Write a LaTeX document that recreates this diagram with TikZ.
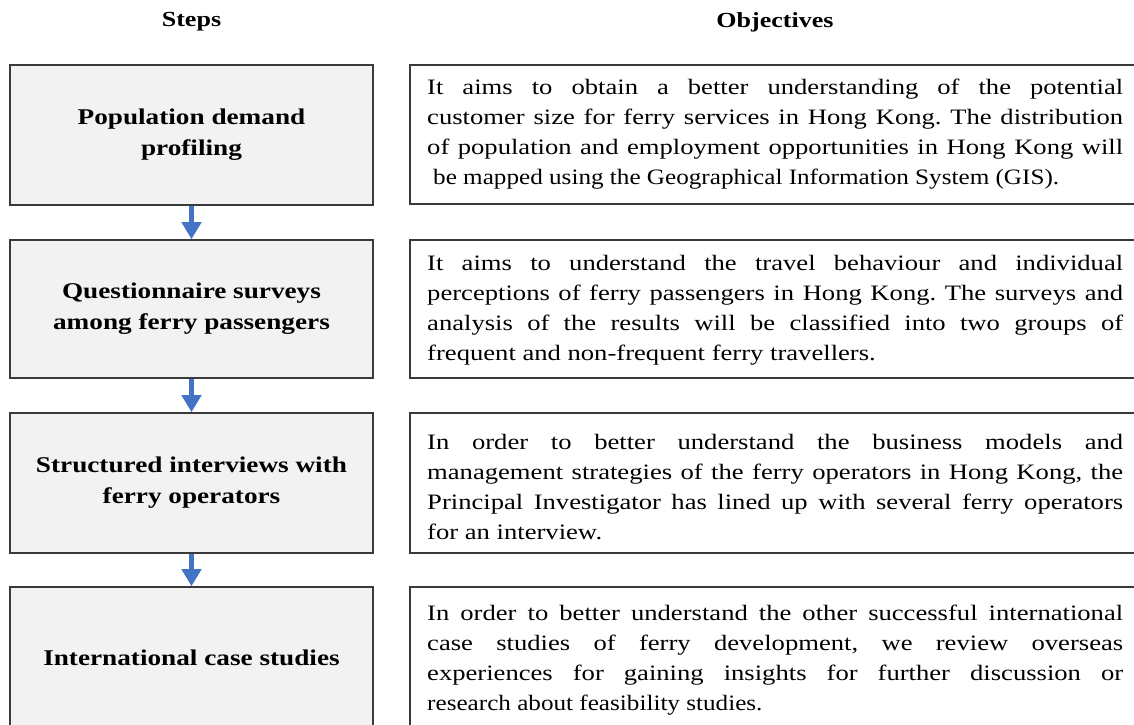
\documentclass[tikz,border=0pt]{standalone}
\usepackage{fontspec}
\usepackage{graphicx}
\setmainfont{Liberation Serif}[FakeStretch=1.21]
\usetikzlibrary{arrows.meta}
\definecolor{boxfill}{HTML}{F2F2F2}
\definecolor{boxline}{HTML}{3A3A3A}
\definecolor{arrowblue}{HTML}{4472C4}
\newcommand{\jl}[1]{\makebox[696pt][s]{#1}\\}
\newcommand{\narrowline}[1]{\scalebox{0.945}[1]{#1}}
\tikzset{
  stepbox/.style={draw=boxline, fill=boxfill, line width=1.6pt, minimum width=363pt, inner sep=0pt, align=center, font=\bfseries\fontsize{22.5}{31}\selectfont},
  objbox/.style={draw=boxline, fill=white, line width=1.6pt, minimum width=735pt, inner sep=0pt},
  objtext/.style={anchor=west, inner sep=0pt, align=left, font=\frenchspacing\fontsize{22}{30}\selectfont},
  header/.style={font=\bfseries\fontsize{21.5}{24}\selectfont, inner sep=0pt},
  flow/.style={draw=arrowblue, line width=5pt, -{Triangle[width=19pt,length=17pt]}}
}
\begin{document}
\begin{tikzpicture}[x=1pt,y=-1pt]
\useasboundingbox (0,0) rectangle (1134,724);
\clip (0,0) rectangle (1134,724);
\node[header] (hs) at (191.5,22) {Steps};
\node[header] (ho) at (775,22) {Objectives};

\node[stepbox, minimum height=140pt] (s1) at (191.5,135) {Population demand\\profiling};
\node[stepbox, minimum height=138pt] (s2) at (191.5,309) {Questionnaire surveys\\among ferry passengers};
\node[stepbox, minimum height=140pt] (s3) at (191.5,483) {Structured interviews with\\ferry operators};
\node[stepbox, minimum height=142pt] (s4) at (191.5,658) {International case studies};

\node[objbox, minimum height=139pt] (o1) at (777.5,134.5) {};
\node[objbox, minimum height=138pt] (o2) at (777.5,309) {};
\node[objbox, minimum height=140pt] (o3) at (777.5,483) {};
\node[objbox, minimum height=142pt] (o4) at (777.5,658) {};

\node[objtext] (t1) at (427,134) {\jl{It aims to obtain a better understanding of the potential}\jl{customer size for ferry services in Hong Kong. The distribution}\jl{of population and employment opportunities in Hong Kong will}\hspace*{6pt}\narrowline{be mapped using the Geographical Information System (GIS).}};
\node[objtext] (t2) at (427,310) {\jl{It aims to understand the travel behaviour and individual}\jl{perceptions of ferry passengers in Hong Kong. The surveys and}\jl{analysis of the results will be classified into two groups of}frequent and non-frequent ferry travellers.};
\node[objtext] (t3) at (427,487) {\jl{In order to better understand the business models and}\jl{management strategies of the ferry operators in Hong Kong, the}\jl{Principal Investigator has lined up with several ferry operators}for an interview.};
\node[objtext] (t4) at (427,660) {\jl{In order to better understand the other successful international}\jl{case studies of ferry development, we review overseas}\jl{experiences for gaining insights for further discussion or}\narrowline{research about feasibility studies.}};

\draw[flow] (s1.south) -- (s2.north);
\draw[flow] (s2.south) -- (s3.north);
\draw[flow] (s3.south) -- (s4.north);
\end{tikzpicture}
\end{document}
